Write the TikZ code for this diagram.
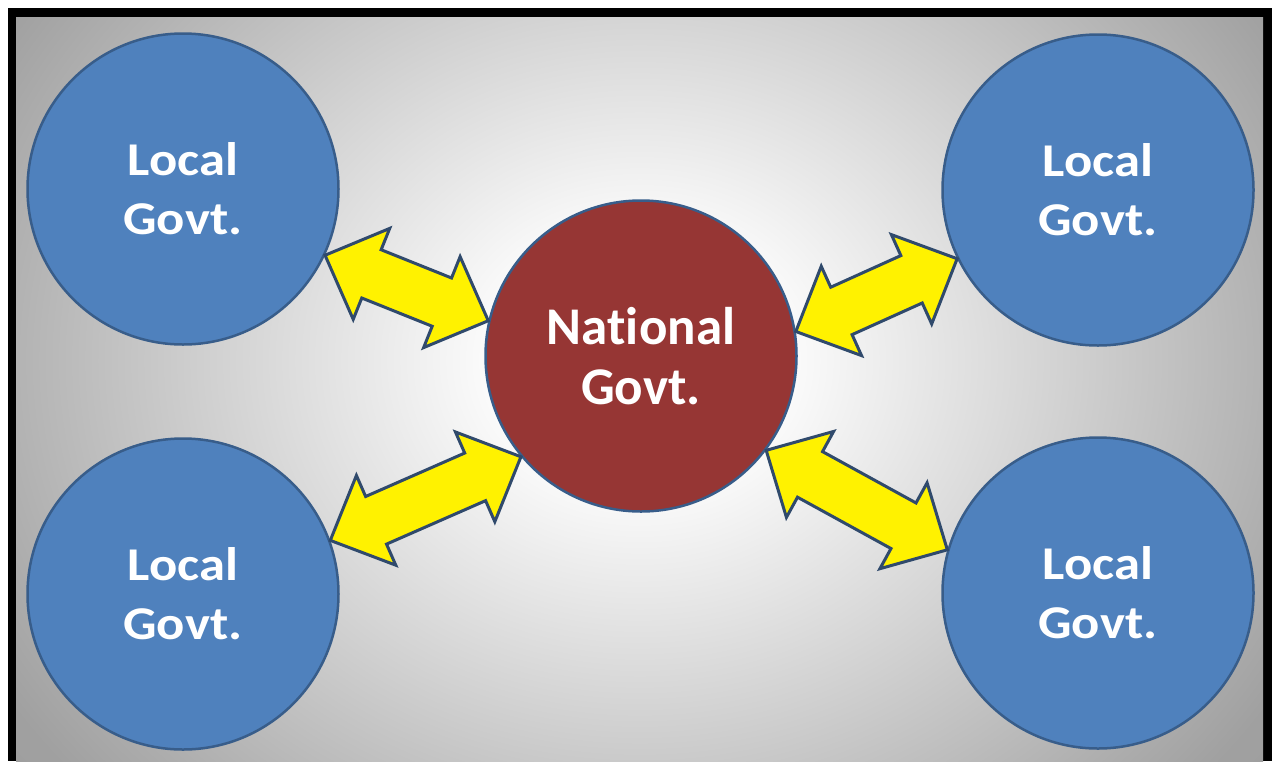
\documentclass[tikz,border=0pt]{standalone}
\usepackage{fontspec}
\setmainfont{Carlito}[Ligatures=NoCommon]
\usetikzlibrary{calc}
\definecolor{locblue}{RGB}{79,129,189}
\definecolor{natred}{RGB}{150,54,52}
\definecolor{edgeblue}{RGB}{56,93,138}
\definecolor{arrowedge}{RGB}{48,74,108}
\definecolor{bgmid}{RGB}{160,160,160}
\definecolor{bgout}{RGB}{150,150,150}
\pgfdeclareradialshading{bgshade}{\pgfpoint{0bp}{0bp}}{color(0bp)=(white); color(5bp)=(white); color(30bp)=(bgmid); color(50bp)=(bgout)}
\newcommand\headlen{50pt}
\newcommand\headw{49pt}
\newcommand\shaftw{26pt}
\newcommand\dblarrow[2]{%
  \coordinate (da1) at ($(#1)!\headlen!(#2)$);
  \coordinate (da2) at ($(#2)!\headlen!(#1)$);
  \draw[fatarrow] (#1) -- ($(da1)!\headw!90:(#2)$) -- ($(da1)!\shaftw!90:(#2)$)
    -- ($(da2)!\shaftw!-90:(#1)$) -- ($(da2)!\headw!-90:(#1)$) -- (#2)
    -- ($(da2)!\headw!90:(#1)$) -- ($(da2)!\shaftw!90:(#1)$)
    -- ($(da1)!\shaftw!-90:(#2)$) -- ($(da1)!\headw!-90:(#2)$) -- cycle;}
\newcommand\wide[1]{\scalebox{1.12}[1]{#1}}
\tikzset{
  govt/.style={circle, draw=edgeblue, line width=2.5pt, minimum size=311pt, inner sep=0pt,
    text=white, align=center},
  localgov/.style={govt, fill=locblue, font=\fontsize{47}{59}\selectfont\bfseries},
  nationalgov/.style={govt, fill=natred, font=\fontsize{53}{60}\selectfont\bfseries},
  fatarrow/.style={fill=yellow, draw=arrowedge, line width=3pt, line join=miter}
}
\begin{document}
\begin{tikzpicture}[x=1pt,y=-1pt]
\useasboundingbox (0,0) rectangle (1273,761);
\fill[white] (0,0) rectangle (1273,761);
\fill[black] (8,8) rectangle (1272,761);
\begin{scope}
  \clip (16,17) rectangle (1263,761);
  \shade[shading=bgshade] (16,-170) rectangle (1263,891);
\end{scope}
\node[localgov] (tl) at (183,189) {\wide{Local}\\\wide{Govt.}};
\node[localgov] (tr) at (1098,190) {\wide{Local}\\\wide{Govt.}};
\node[localgov] (bl) at (183,594) {\wide{Local}\\\wide{Govt.}};
\node[localgov] (br) at (1098,593) {\wide{Local}\\\wide{Govt.}};
\node[nationalgov] (nat) at (641,356) {National\\Govt.};
\dblarrow{tl.-25.6}{nat.167.7}
\dblarrow{bl.20}{nat.220}
\dblarrow{nat.9.5}{tr.206.7}
\dblarrow{nat.-37}{br.164.1}
\end{tikzpicture}
\end{document}
